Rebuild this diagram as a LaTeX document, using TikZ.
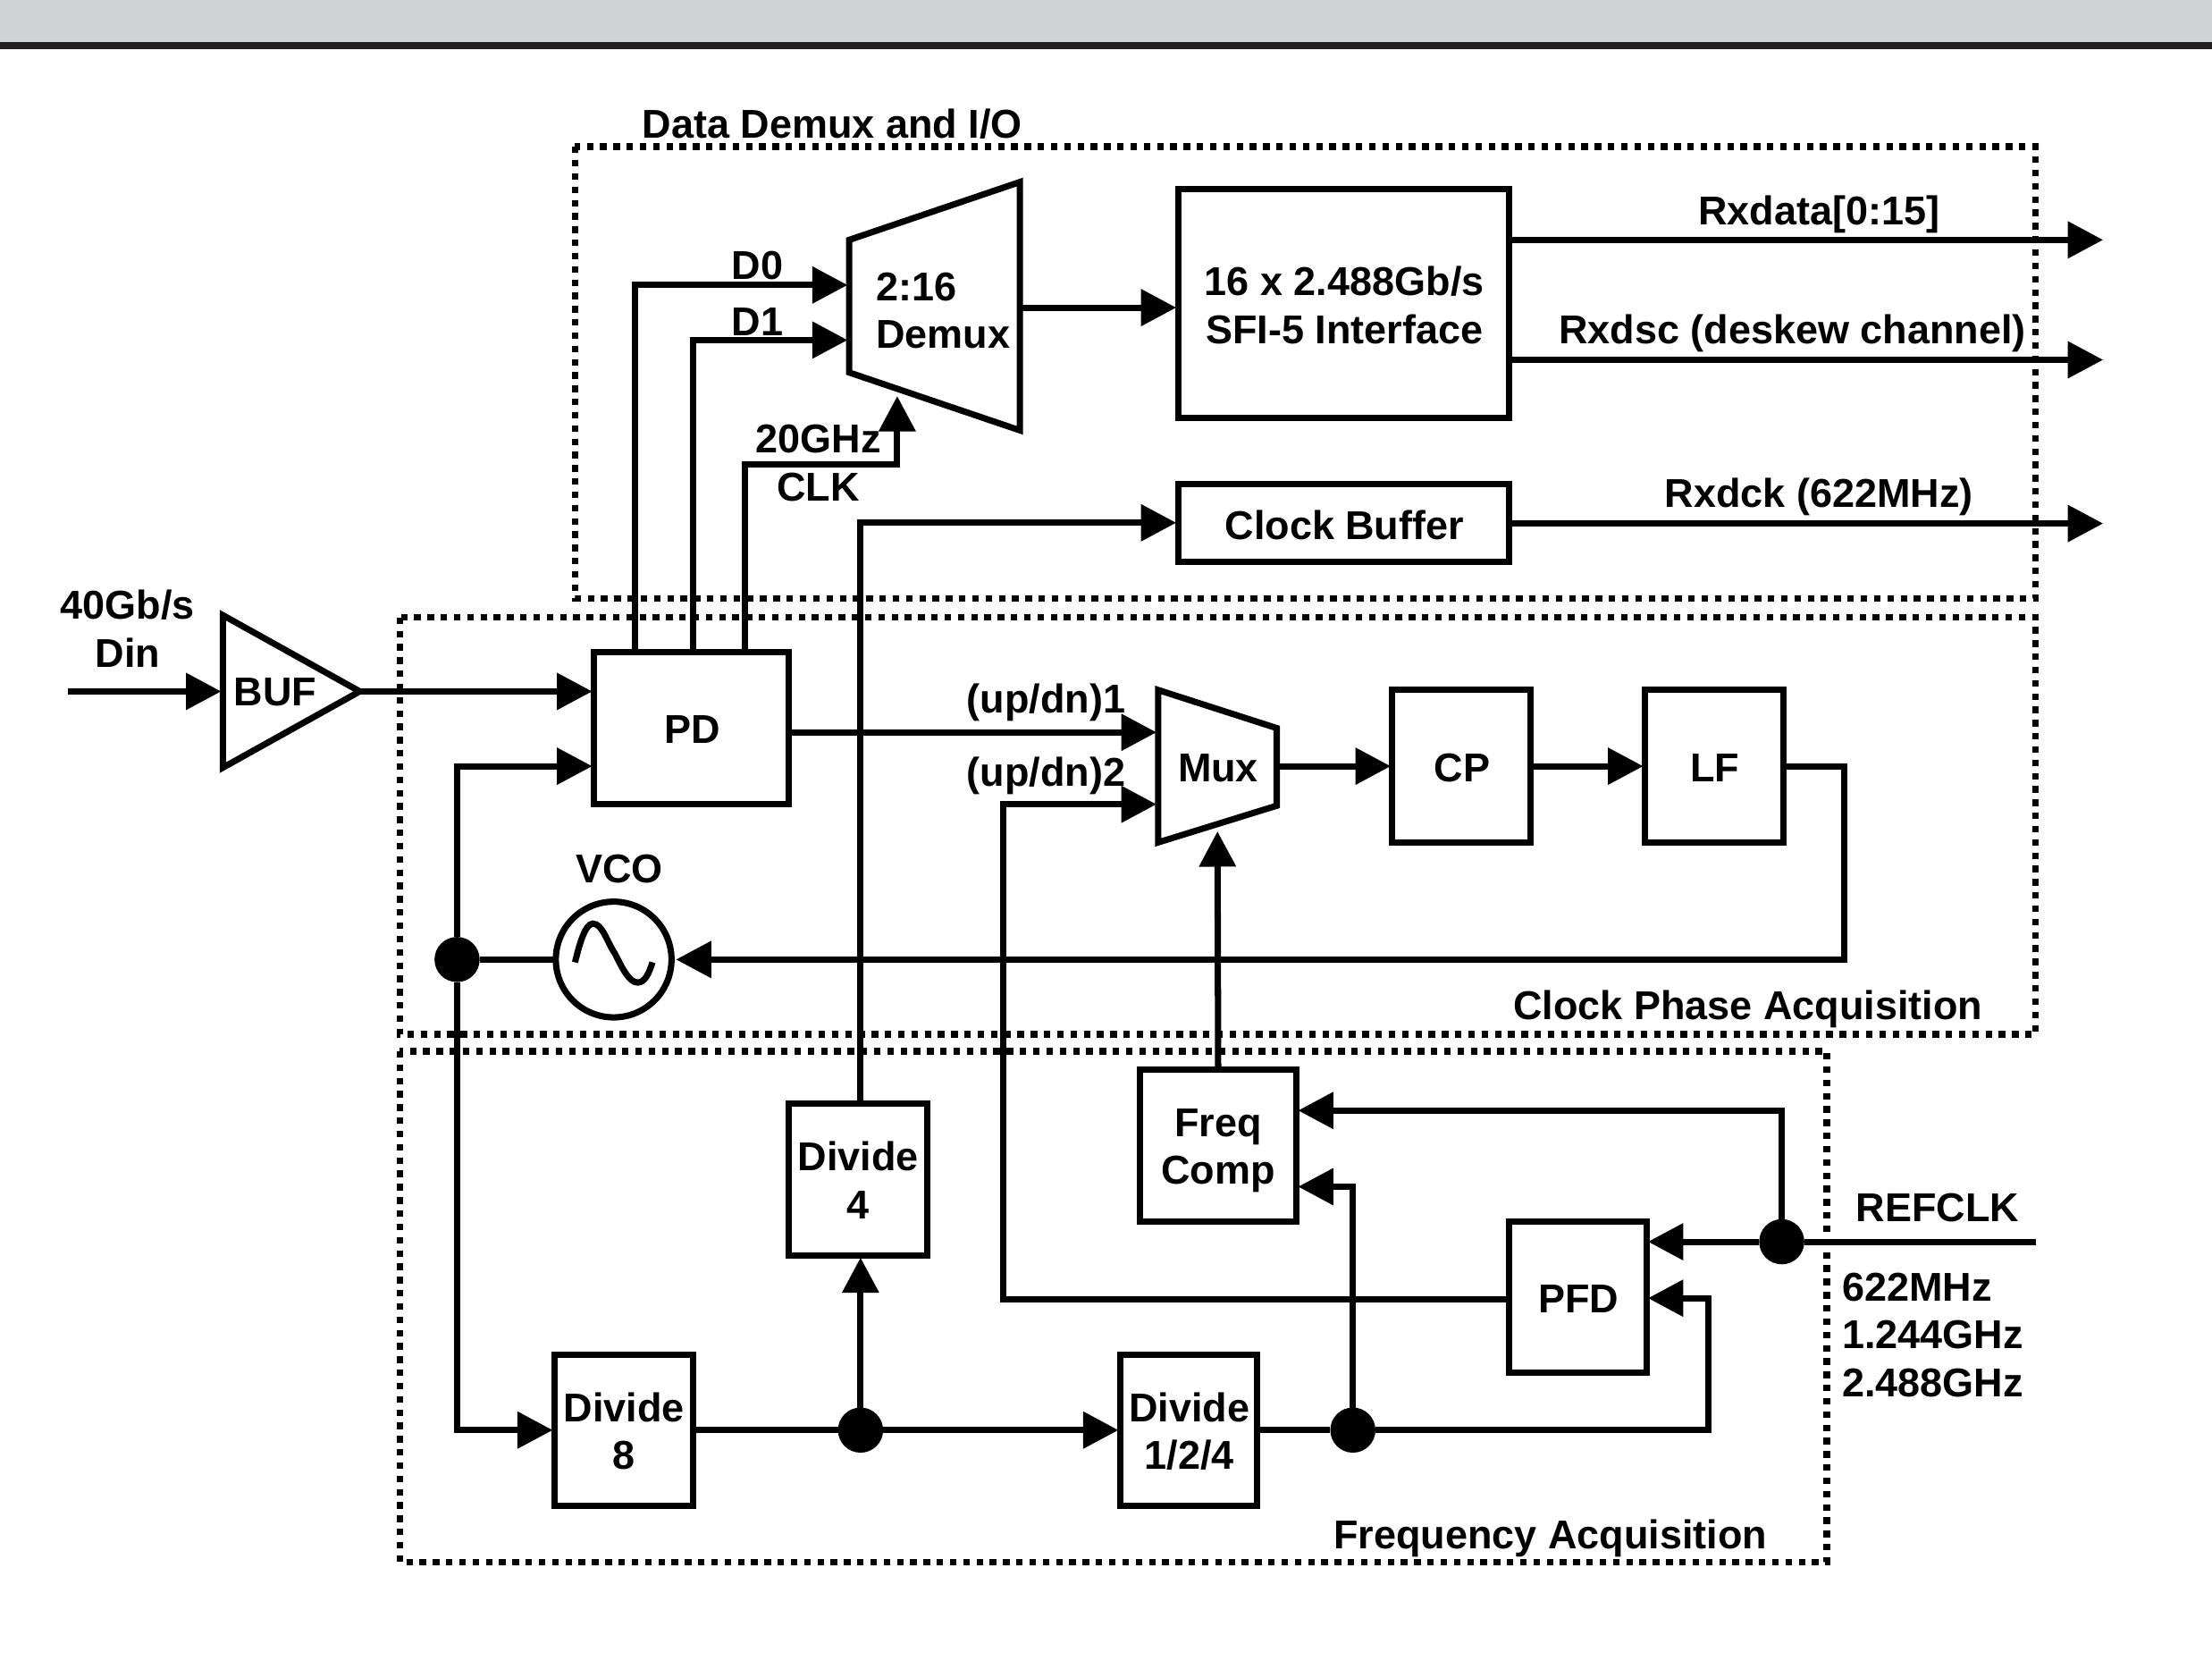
\documentclass[tikz,border=0pt]{standalone}
\usepackage{fontspec}
\setmainfont{Liberation Sans}
\usetikzlibrary{arrows.meta}
\definecolor{band}{HTML}{D1D3D4}
\definecolor{bar}{HTML}{231F20}
\newcommand{\lab}{\fontsize{28.5}{34}\selectfont\bfseries}
\tikzset{
  ln/.style={line width=4.45pt,draw=black,line cap=butt,line join=miter},
  arr/.style={ln,shorten >=1.2pt,-{Triangle[length=25pt,width=25.3pt]}},
  blk/.style={ln,rectangle,inner sep=0pt,outer sep=0pt},
  lbl/.style={inner sep=0pt,outer sep=0pt,align=center,font=\lab},
  intext/.style n args={3}{label={[lbl,xshift=#1pt,yshift=#2pt]center:{#3}}},
  dotbox/.style={line width=4.65pt,draw=black,dash pattern=on 4.65pt off 4.75pt},
  junct/.style={circle,fill=black,inner sep=0pt,outer sep=0pt,minimum size=32pt}
}
\begin{document}
\begin{tikzpicture}[x=1pt,y=-1pt]
\useasboundingbox (0,0) rectangle (1568,1182.2);
\fill[band] (0,0) rectangle (1568,29.6);
\fill[bar] (0,29.6) rectangle (1568,35);
% dotted regions
\draw[dotbox] (407.6,104) rectangle (1443,424);
\draw[dotbox] (283.4,437.6) rectangle (1443,733);
\draw[dotbox] (283.4,745) rectangle (1295,1107);
\node[lbl] (tData) at (590,88) {Data Demux and I/O};
\node[lbl] (tClock) at (1239,715) {Clock Phase Acquisition};
\node[lbl] (tFreq) at (1099,1090) {Frequency Acquisition};
% blocks
\node[blk,minimum width=235pt,minimum height=162pt,intext={0.5}{-1.5}{16 x 2.488Gb/s\\SFI-5 Interface}] (sfi) at (952.5,215) {};
\node[blk,minimum width=235pt,minimum height=55pt,intext={0.5}{-1.5}{Clock Buffer}] (cbuf) at (952.5,370.5) {};
\node[blk,minimum width=138pt,minimum height=108pt,intext={1}{-1.2}{PD}] (pd) at (490,516) {};
\node[blk,minimum width=98pt,minimum height=108pt,intext={0.5}{-1}{CP}] (cp) at (1036,543) {};
\node[blk,minimum width=98pt,minimum height=108pt,intext={0.5}{-1}{LF}] (lf) at (1215,543) {};
\node[blk,minimum width=98pt,minimum height=108pt,intext={0.5}{-0.5}{Divide\\4}] (div4) at (608,836) {};
\node[blk,minimum width=111pt,minimum height=108pt,intext={0}{-3.5}{Freq\\Comp}] (fcomp) at (863.5,812) {};
\node[blk,minimum width=97pt,minimum height=107pt,intext={0.5}{-1}{PFD}] (pfd) at (1118.5,919.5) {};
\node[blk,minimum width=98pt,minimum height=107pt,intext={0.5}{-0.8}{Divide\\8}] (div8) at (442,1013.5) {};
\node[blk,minimum width=97pt,minimum height=107pt,intext={0.5}{-0.8}{Divide\\1/2/4}] (div124) at (842.5,1013.5) {};
\node[ln,draw,circle,minimum size=82pt,inner sep=0pt,outer sep=0pt] (vco) at (435,680) {};
\draw[ln] (407.6,682) .. controls (411,668) and (415,654.6) .. (420.3,654.6) .. controls (427,654.6) and (430,667) .. (436,676) .. controls (441,686) and (446,696.3) .. (452,696.3) .. controls (457,696.3) and (460,690) .. (462.5,682);
\node[lbl] (tVco) at (439,616) {VCO};
% non rectangular blocks
\draw[ln] (602,170) -- (723,129) -- (723,305) -- (602,264) -- cycle;
\node[lbl] (tDemuxA) at (650,203.5) {2:16};
\node[lbl] (tDemuxB) at (668.5,237) {Demux};
\draw[ln] (821,489) -- (905,516) -- (905,571) -- (821,597) -- cycle;
\node[lbl] (tMux) at (863.5,544.3) {Mux};
\draw[ln] (158,436) -- (255,490) -- (158,544) -- cycle;
\node[lbl] (tBuf) at (195,490.7) {BUF};
% coordinates
\coordinate (din) at (48,490);
\coordinate (bufIn) at (158,490);
\coordinate (bufOut) at (255,490);
\coordinate (dmxD0) at (602,202);
\coordinate (dmxD1) at (602,241);
\coordinate (dmxClk) at (636,279.5);
\coordinate (dmxOut) at (723,218);
\coordinate (muxA) at (821,519);
\coordinate (muxB) at (821,570);
\coordinate (muxS) at (863,588);
\coordinate (muxOut) at (905,543);
\coordinate (fcA) at (919,787);
\coordinate (fcB) at (919,841);
\coordinate (outA) at (1492,170);
\coordinate (outB) at (1492,255);
\coordinate (outC) at (1492,371);
\coordinate (ref) at (1443,880);
\coordinate (pdClk) at (421,543);
\coordinate (pfdB) at (1167,920);
\coordinate (pfdOut) at (1070,921);
\coordinate (vcoIn) at (478,680);
\node[junct] (jVco) at (324,680) {};
\node[junct] (jDiv) at (610,1013.5) {};
\node[junct] (jFb) at (959,1013.5) {};
\node[junct] (jRef) at (1263,880) {};
% connectors
\draw[arr] (din) -- (bufIn);
\draw[arr] (bufOut) -- (pd.west |- bufOut);
\draw[arr] (450,462) -- (450,202) -- (dmxD0);
\draw[arr] (491,462) -- (491,241) -- (dmxD1);
\draw[arr] (528,462) -- (528,329) -- (636,329) -- (dmxClk);
\draw[arr] (dmxOut) -- (sfi.west |- dmxOut);
\draw[arr] (sfi.east |- outA) -- (outA);
\draw[arr] (sfi.east |- outB) -- (outB);
\draw[arr] (cbuf.east |- outC) -- (outC);
\draw[arr] (jDiv |- div4.north) -- (jDiv |- cbuf.west) -- (cbuf.west);
\draw[arr] (pd.east |- muxA) -- (muxA);
\draw[arr] (pfdOut) -- (711,921) -- (711,570) -- (muxB);
\draw[arr] (fcomp.north) -- (muxS);
\draw[arr] (muxOut) -- (cp.west);
\draw[arr] (cp.east) -- (lf.west);
\draw[arr] (lf.east) -- (1307,543) -- (1307,680) -- (vcoIn);
\draw[ln] (jVco) -- (vco.west);
\draw[arr] (jVco) -- (jVco |- pdClk) -- (pdClk);
\draw[arr] (jVco) -- (jVco |- div8.west) -- (div8.west);
\draw[ln] (div8.east) -- (jDiv);
\draw[arr] (jDiv) -- (div124.west);
\draw[arr] (jDiv) -- (jDiv |- div4.south);
\draw[ln] (div124.east) -- (jFb);
\draw[arr] (jFb) -- (jFb |- fcB) -- (fcB);
\draw[arr] (jFb) -- (1211,1013.5) -- (1211,920) -- (pfdB);
\draw[ln] (ref) -- (jRef);
\draw[arr] (jRef) -- (pfd.east |- jRef);
\draw[arr] (jRef) -- (jRef |- fcA) -- (fcA);
% labels
\node[lbl] (tD0) at (537,188) {D0};
\node[lbl] (tD1) at (537,228) {D1};
\node[lbl] (t20) at (580,311) {20GHz};
\node[lbl] (tCk) at (580,345) {CLK};
\node[lbl] (tRxd) at (1289.5,152) {Rxdata[0:15]};
\node[lbl] (tRxs) at (1270.5,236) {Rxdsc (deskew channel)};
\node[lbl] (tRxc) at (1289.5,352) {Rxdck (622MHz)};
\node[lbl] (tIn) at (90.5,445.5) {40Gb/s\\Din};
\node[lbl] (tUp1) at (741.5,498) {(up/dn)1};
\node[lbl] (tUp2) at (741.5,550) {(up/dn)2};
\node[lbl] (tRef) at (1373.5,856) {REFCLK};
\node[lbl,align=left] (tFq) at (1370,946) {622MHz\\1.244GHz\\2.488GHz};
\end{tikzpicture}
\end{document}
